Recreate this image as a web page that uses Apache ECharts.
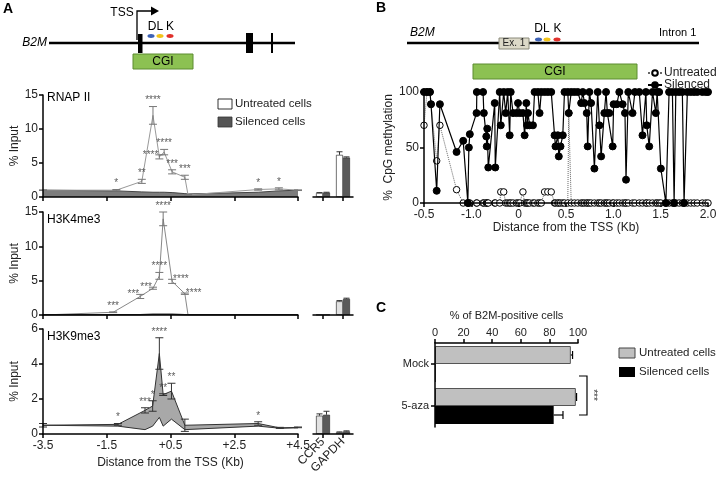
<!DOCTYPE html>
<html><head><meta charset="utf-8">
<script src="https://cdn.jsdelivr.net/npm/echarts@6/dist/echarts.min.js"></script>
<style>html,body{margin:0;padding:0;background:#fff}#c{width:726px;height:480px}</style>
</head><body><div id="c"></div>
<script>
const FONT = "'Liberation Sans', Arial, sans-serif";

// ---------- Panel A data ----------
const aTickVals = [-3.5, -1.5, 0.5, 2.5, 4.5];
const aTickLabels = ['-3.5', '-1.5', '+0.5', '+2.5', '+4.5'];
const ctrlGenes = ['CCR5', 'GAPDH'];

const rnapPos = [-3.5, -1.2, -0.4, -0.05, 0.15, 0.3, 0.55, 0.95, 1.05, 3.25, 3.9, 4.5];
const rnapUntreated = [1.0, 1.0, 2.3, 12.0, 5.9, 6.6, 3.7, 2.9, 0.3, 1.1, 1.2, 1.0];
const rnapUntreatedErr = [0.05, 0.1, 0.3, 1.3, 0.3, 0.4, 0.3, 0.3, 0.05, 0.1, 0.15, 0.05];
const rnapSilenced = [1.0, 0.9, 0.75, 0.7, 0.7, 0.7, 0.65, 0.5, 0.45, 0.7, 0.9, 1.0];
const rnapSig = ['', '*', '**', '****', '****', '****', '***', '***', '', '*', '*', ''];

const k4Pos = [-3.5, -1.3, -0.45, -0.05, 0.15, 0.27, 0.55, 0.95, 1.05, 4.5];
const k4Untreated = [0.0, 0.4, 2.7, 3.9, 5.7, 14.0, 4.9, 3.1, 0.0, 0.0];
const k4UntreatedErr = [0, 0.05, 0.3, 0.15, 0.5, 1.0, 0.3, 0.1, 0, 0];
const k4Silenced = [0.05, 0.05, 0.05, 0.1, 0.1, 0.1, 0.1, 0.05, 0.05, 0.05];
const k4Sig = ['', '***', '***', '***', '****', '****', '****', '****', '', ''];

const k9Pos = [-3.5, -1.15, -0.3, -0.06, 0.15, 0.27, 0.53, 0.95, 3.25, 3.93, 4.5];
const k9Silenced = [0.5, 0.55, 1.35, 1.6, 4.6, 2.25, 2.45, 0.5, 0.6, 0.35, 0.38];
const k9SilencedErr = [0.1, 0.05, 0.15, 0.3, 0.9, 0.05, 0.45, 0.35, 0.1, 0.03, 0.02];
const k9Untreated = [0.5, 0.45, 0.25, 0.45, 0.95, 0.45, 0.85, 0.25, 0.45, 0.33, 0.35];
const k9Sig = ['', '*', '***', '*', '****', '**', '**', '', '*', '', ''];

const rnapBarU = [0.6, 6.2], rnapBarUErr = [0.05, 0.45];
const rnapBarS = [0.65, 5.8], rnapBarSErr = [0.05, 0.1];
const k4BarU = [0.05, 2.0], k4BarUErr = [0, 0.1];
const k4BarS = [0.05, 2.35], k4BarSErr = [0, 0.1];
const k9BarU = [1.05, 0.1], k9BarUErr = [0.1, 0.02];
const k9BarS = [1.1, 0.15], k9BarSErr = [0.2, 0.03];

// ---------- Panel B data ----------
const bTickLabels = ['-0.5', '-1.0', '0', '0.5', '1.0', '1.5', '2.0'];
const cpgPos = [
 -1.0, -0.968, -0.937, -0.926, -0.866, -0.832, -0.656, -0.586, -0.537, -0.526, -0.516, -0.445, -0.442, -0.376, -0.368, -0.342, -0.337, -0.332, -0.321, -0.253, -0.247, -0.2, -0.189, -0.158, -0.137, -0.116, -0.095,
 -0.084, -0.06, -0.024, -0.007, 0.011, 0.045, 0.063, 0.081, 0.089, 0.098, 0.116, 0.151, 0.168, 0.203, 0.221, 0.239, 0.274, 0.308, 0.344, 0.379, 0.389, 0.414, 0.424, 0.442, 0.466, 0.484, 0.519, 0.529, 0.555, 0.589, 0.624, 0.66, 0.677, 0.695, 0.719, 0.729, 0.747, 0.765, 0.8, 0.835, 0.853, 0.871, 0.905, 0.923,
 0.937, 0.958, 0.993, 1.003, 1.037, 1.063, 1.098, 1.123, 1.134, 1.158, 1.203, 1.228, 1.274, 1.308, 1.344, 1.353, 1.379, 1.414, 1.449, 1.463, 1.484, 1.502, 1.555, 1.589, 1.624, 1.642, 1.66, 1.695, 1.729, 1.747, 1.782, 1.818, 1.853, 1.887, 1.94, 1.976, 2.0
];
const silencedMeth = [
 100,100,100,89,11,89,46,56,0,50,62,81,100,100,81,60,51,67,32,90,32,100,70,100,81,100,61,
 100,81,81,90,81,81,61,90,70,81,70,70,100,100,81,100,100,100,100,61,51,61,42,51,61,100,100,81,100,100,100,90,100,90,81,51,100,90,31,100,70,42,81,100,
 81,81,51,89,89,100,89,81,21,100,81,100,100,61,100,70,51,100,81,100,100,31,0,100,100,0,100,100,100,0,100,100,100,100,100,100,100
];
const untreatedMeth = [
 70,100,100,89,38,70,12,0,0,0,0,0,0,0,0,0,0,0,0,0,0,0,10,10,0,0,0,
 0,0,0,0,0,10,0,0,0,0,0,0,0,0,0,0,10,10,10,0,0,0,0,0,0,0,0,81,0,0,0,0,0,0,0,0,0,0,0,0,0,0,0,0,
 0,0,0,0,0,0,0,0,0,0,0,0,0,0,0,0,0,0,0,0,0,0,0,0,0,0,0,0,0,0,0,0,0,0,0,0,0
];

// ---------- Panel C data ----------
const cCats = ['Mock', '5-aza'];
const cUntreated = [95, 98.5], cUntreatedErr = [1.2, 0.5];
const cSilenced = [0.5, 83], cSilencedErr = [0, 6.5];

// ---------- helpers ----------
const zip = (a, b) => a.map((v, i) => [v, b[i]]);
const zip3 = (a, b, c) => a.map((v, i) => [v, b[i], c[i]]);

function lineErr(cap, color) {
  return function (params, api) {
    const x = api.value(0), y = api.value(1), e = api.value(2);
    if (!e) return { type: 'group', children: [] };
    const lo = api.coord([x, y - e]), hi = api.coord([x, y + e]);
    const st = { stroke: color, lineWidth: 1 };
    return { type: 'group', children: [
      { type: 'line', shape: { x1: lo[0], y1: lo[1], x2: hi[0], y2: hi[1] }, style: st },
      { type: 'line', shape: { x1: hi[0] - cap, y1: hi[1], x2: hi[0] + cap, y2: hi[1] }, style: st },
      { type: 'line', shape: { x1: lo[0] - cap, y1: lo[1], x2: lo[0] + cap, y2: lo[1] }, style: st }
    ] };
  };
}
function barErrV(offset, cap) {
  return function (params, api) {
    const c = api.value(0), v = api.value(1), e = api.value(2);
    if (!e) return { type: 'group', children: [] };
    const p0 = api.coord([c, v]), p1 = api.coord([c, v + e]);
    const x = p0[0] + offset, st = { stroke: '#333', lineWidth: 1 };
    return { type: 'group', children: [
      { type: 'line', shape: { x1: x, y1: p0[1], x2: x, y2: p1[1] }, style: st },
      { type: 'line', shape: { x1: x - cap, y1: p1[1], x2: x + cap, y2: p1[1] }, style: st }
    ] };
  };
}
function barErrH(offset, cap) {
  return function (params, api) {
    const v = api.value(0), c = api.value(1), e = api.value(2);
    if (!e) return { type: 'group', children: [] };
    const p0 = api.coord([v, c]), p1 = api.coord([v + e, c]);
    const y = p0[1] + offset, st = { stroke: '#000', lineWidth: 1.2 };
    return { type: 'group', children: [
      { type: 'line', shape: { x1: p0[0], y1: y, x2: p1[0], y2: y }, style: st },
      { type: 'line', shape: { x1: p1[0], y1: y - cap, x2: p1[0], y2: y + cap }, style: st }
    ] };
  };
}
function sigSeries(xi, yi, pos, vals, errs, sig, placement) {
  return {
    type: 'scatter', xAxisIndex: xi, yAxisIndex: yi, symbolSize: 0, z: 6, silent: true,
    data: pos.map((p, i) => ({
      value: [p, vals[i] + (errs ? errs[i] : 0)],
      label: { show: !!sig[i], formatter: sig[i], position: (placement && placement[i]) || 'top', distance: 1,
               fontSize: 10, color: '#333', fontFamily: FONT }
    }))
  };
}

const axLine = { show: true, onZero: false, lineStyle: { color: '#000', width: 1.5 } };
const axTick = { show: true, length: 4, lineStyle: { color: '#000', width: 1.5 } };
const lbl = (fs) => ({ color: '#222', fontSize: fs, fontFamily: FONT });

function aX(grid, showLabels) {
  return {
    type: 'value', gridIndex: grid, min: -3.5, max: 4.5, z: 10,
    axisLine: axLine, splitLine: { show: false },
    axisTick: Object.assign({ customValues: aTickVals }, axTick),
    axisLabel: Object.assign({ show: showLabels, customValues: aTickVals, margin: 6,
      formatter: v => aTickLabels[aTickVals.indexOf(v)] }, lbl(12)),
    name: showLabels ? 'Distance from the TSS (Kb)' : '', nameLocation: 'middle', nameGap: 23,
    nameTextStyle: lbl(12)
  };
}
function aY(grid, max, interval) {
  return {
    type: 'value', gridIndex: grid, min: 0, max: max, interval: interval, z: 10,
    axisLine: axLine, axisTick: axTick, splitLine: { show: false },
    axisLabel: Object.assign({ margin: 5 }, lbl(12)),
    name: '% Input', nameLocation: 'middle', nameGap: 22, nameTextStyle: lbl(12)
  };
}
function barX(grid, showLabels) {
  return {
    type: 'category', gridIndex: grid, data: ctrlGenes, z: 10,
    axisLine: axLine, axisTick: Object.assign({ alignWithLabel: true }, axTick),
    axisLabel: Object.assign({ show: showLabels, rotate: 45, margin: 6, interval: 0 }, lbl(12))
  };
}
function barY(grid, max) {
  return { type: 'value', gridIndex: grid, min: 0, max: max, show: false };
}
function barPair(xi, u, ue, s, se, uColor) {
  const bw = 7;
  return [
    { type: 'bar', xAxisIndex: xi, yAxisIndex: xi, data: u, barWidth: bw, barGap: '0%',
      itemStyle: { color: uColor, borderColor: '#333', borderWidth: 0.7 } },
    { type: 'bar', xAxisIndex: xi, yAxisIndex: xi, data: s, barWidth: bw, barGap: '0%',
      itemStyle: { color: '#5a5a5a', borderColor: '#333', borderWidth: 0.7 } },
    { type: 'custom', xAxisIndex: xi, yAxisIndex: xi, renderItem: barErrV(-bw / 2, 3),
      data: zip3([0, 1], u, ue), z: 5 },
    { type: 'custom', xAxisIndex: xi, yAxisIndex: xi, renderItem: barErrV(bw / 2, 3),
      data: zip3([0, 1], s, se), z: 5 }
  ];
}

const k9Upper = k9Silenced.map((v, i) => Math.max(v, k9Untreated[i]));
const k9Lower = k9Silenced.map((v, i) => Math.min(v, k9Untreated[i]));

const option = {
  animation: false,
  backgroundColor: '#fff',
  textStyle: { fontFamily: FONT },
  grid: [
    { left: 43, top: 95, width: 255, height: 102 },
    { left: 313, top: 95, width: 40, height: 102 },
    { left: 43, top: 212, width: 255, height: 103 },
    { left: 313, top: 212, width: 40, height: 103 },
    { left: 43, top: 329, width: 255, height: 105 },
    { left: 313, top: 329, width: 40, height: 105 },
    { left: 424, top: 92, width: 284, height: 111 },
    { left: 435, top: 343, width: 143, height: 84 }
  ],
  xAxis: [
    aX(0, false), barX(1, false), aX(2, false), barX(3, false), aX(4, true), barX(5, true),
    { type: 'value', gridIndex: 6, min: -1, max: 2, interval: 0.5, z: 10,
      axisLine: axLine, axisTick: axTick, splitLine: { show: false },
      axisLabel: Object.assign({ margin: 6, formatter: v => bTickLabels[Math.round((v + 1) / 0.5)] }, lbl(12)),
      name: 'Distance from the TSS (Kb)', nameLocation: 'middle', nameGap: 19, nameTextStyle: lbl(12) },
    { type: 'value', gridIndex: 7, min: 0, max: 100, interval: 20, position: 'top', z: 10,
      axisLine: axLine, axisTick: axTick, splitLine: { show: false },
      axisLabel: Object.assign({ margin: 5 }, lbl(11)),
      name: '% of B2M-positive cells', nameLocation: 'middle', nameGap: 22, nameTextStyle: lbl(11) }
  ],
  yAxis: [
    aY(0, 15, 5), barY(1, 15), aY(2, 15, 5), barY(3, 15), aY(4, 6, 2), barY(5, 6),
    { type: 'value', gridIndex: 6, min: 0, max: 100, interval: 50, z: 10,
      axisLine: axLine, axisTick: axTick, splitLine: { show: false },
      axisLabel: Object.assign({ margin: 5 }, lbl(12)),
      name: '%  CpG methylation', nameLocation: 'middle', nameGap: 28, nameTextStyle: lbl(12) },
    { type: 'category', gridIndex: 7, data: cCats, inverse: true, z: 10,
      axisLine: axLine, axisTick: Object.assign({ alignWithLabel: true }, axTick),
      axisLabel: Object.assign({ margin: 6 }, lbl(11)) }
  ],
  legend: {
    data: ['Untreated', 'Silenced'], left: 647, top: 67, orient: 'vertical', itemGap: 0, padding: 0,
    itemWidth: 14, itemHeight: 7, textStyle: { fontSize: 12, color: '#222', fontFamily: FONT, padding: [0, 0, 0, -3] }
  },
  series: [
    // RNAP II
    { type: 'line', xAxisIndex: 0, yAxisIndex: 0, data: zip(rnapPos, rnapSilenced), symbol: 'none',
      lineStyle: { color: '#444', width: 1 }, areaStyle: { color: '#7d7d7d', opacity: 1 }, z: 2 },
    { type: 'line', xAxisIndex: 0, yAxisIndex: 0, data: zip(rnapPos, rnapUntreated), symbol: 'none',
      lineStyle: { color: '#999', width: 1 }, z: 3 },
    { type: 'custom', xAxisIndex: 0, yAxisIndex: 0, renderItem: lineErr(4, '#777'),
      data: zip3(rnapPos, rnapUntreated, rnapUntreatedErr), z: 4 },
    sigSeries(0, 0, rnapPos, rnapUntreated, rnapUntreatedErr, rnapSig, { 4: 'left' }),
    // H3K4me3
    { type: 'line', xAxisIndex: 2, yAxisIndex: 2, data: zip(k4Pos, k4Untreated), symbol: 'none',
      lineStyle: { color: '#888', width: 1 }, z: 3 },
    { type: 'line', xAxisIndex: 2, yAxisIndex: 2, data: zip(k4Pos, k4Silenced), symbol: 'none',
      lineStyle: { color: '#333', width: 1.5 }, z: 3 },
    { type: 'custom', xAxisIndex: 2, yAxisIndex: 2, renderItem: lineErr(4, '#777'),
      data: zip3(k4Pos, k4Untreated, k4UntreatedErr), z: 4 },
    sigSeries(2, 2, k4Pos, k4Untreated, k4UntreatedErr, k4Sig, { 2: 'left', 3: 'left', 6: 'right', 7: 'right' }),
    // H3K9me3
    { type: 'line', xAxisIndex: 4, yAxisIndex: 4, data: zip(k9Pos, k9Upper), symbol: 'none',
      lineStyle: { width: 0 }, areaStyle: { color: '#a8a8a8', opacity: 1 }, z: 2 },
    { type: 'line', xAxisIndex: 4, yAxisIndex: 4, data: zip(k9Pos, k9Lower), symbol: 'none',
      lineStyle: { width: 0 }, areaStyle: { color: '#fff', opacity: 1 }, z: 3 },
    { type: 'line', xAxisIndex: 4, yAxisIndex: 4, data: zip(k9Pos, k9Silenced), symbol: 'none',
      lineStyle: { color: '#333', width: 1 }, z: 4 },
    { type: 'line', xAxisIndex: 4, yAxisIndex: 4, data: zip(k9Pos, k9Untreated), symbol: 'none',
      lineStyle: { color: '#333', width: 1 }, z: 4 },
    { type: 'custom', xAxisIndex: 4, yAxisIndex: 4, renderItem: lineErr(4, '#333'),
      data: zip3(k9Pos, k9Silenced, k9SilencedErr), z: 5 },
    sigSeries(4, 4, k9Pos, k9Silenced, k9SilencedErr, k9Sig, null),
    // control bars
    ...barPair(1, rnapBarU, rnapBarUErr, rnapBarS, rnapBarSErr, '#ffffff'),
    ...barPair(3, k4BarU, k4BarUErr, k4BarS, k4BarSErr, '#e2e2e2'),
    ...barPair(5, k9BarU, k9BarUErr, k9BarS, k9BarSErr, '#e2e2e2'),
    // Panel B
    { name: 'Untreated', type: 'line', xAxisIndex: 6, yAxisIndex: 6, data: zip(cpgPos, untreatedMeth),
      symbol: 'circle', symbolSize: 6.5, z: 3,
      itemStyle: { color: '#fff', borderColor: '#000', borderWidth: 1 },
      lineStyle: { color: '#666', width: 1, type: 'dotted' } },
    { name: 'Silenced', type: 'line', xAxisIndex: 6, yAxisIndex: 6, data: zip(cpgPos, silencedMeth),
      symbol: 'circle', symbolSize: 7, z: 4,
      itemStyle: { color: '#000', borderColor: '#000', borderWidth: 1 },
      lineStyle: { color: '#000', width: 1.2 } },
    // Panel C
    { type: 'bar', xAxisIndex: 7, yAxisIndex: 7, data: cUntreated, barWidth: 18, barGap: '0%',
      itemStyle: { color: '#c0c0c0', borderColor: '#555', borderWidth: 1 } },
    { type: 'bar', xAxisIndex: 7, yAxisIndex: 7, data: cSilenced, barWidth: 18, barGap: '0%',
      itemStyle: { color: '#000' } },
    { type: 'custom', xAxisIndex: 7, yAxisIndex: 7, renderItem: barErrH(-9, 4),
      data: zip3(cUntreated, [0, 1], cUntreatedErr), z: 5 },
    { type: 'custom', xAxisIndex: 7, yAxisIndex: 7, renderItem: barErrH(9, 4),
      data: zip3(cSilenced, [0, 1], cSilencedErr), z: 5 }
  ],
  graphic: [
    // panel letters
    { type: 'text', x: 3, y: 9, style: { text: 'A', font: 'bold 14px ' + FONT, fill: '#000', textVerticalAlign: 'middle' } },
    { type: 'text', x: 376, y: 8, style: { text: 'B', font: 'bold 14px ' + FONT, fill: '#000', textVerticalAlign: 'middle' } },
    { type: 'text', x: 376, y: 308, style: { text: 'C', font: 'bold 14px ' + FONT, fill: '#000', textVerticalAlign: 'middle' } },
    // gene diagram A
    { type: 'line', shape: { x1: 49, y1: 43, x2: 295, y2: 43 }, style: { stroke: '#000', lineWidth: 2.5 } },
    { type: 'rect', shape: { x: 138, y: 34, width: 4.5, height: 19 }, style: { fill: '#000' } },
    { type: 'polyline', shape: { points: [[137, 40], [137, 11], [152, 11]] }, style: { stroke: '#000', lineWidth: 1.3, fill: null } },
    { type: 'polygon', shape: { points: [[151, 6.5], [159, 11], [151, 15.5]] }, style: { fill: '#000' } },
    { type: 'text', x: 122, y: 13, style: { text: 'TSS', font: '12px ' + FONT, fill: '#000', textAlign: 'center', textVerticalAlign: 'middle' } },
    { type: 'ellipse', shape: { cx: 151, cy: 36, rx: 3.6, ry: 2 }, style: { fill: '#3d62b5' } },
    { type: 'ellipse', shape: { cx: 160, cy: 36, rx: 3.6, ry: 2 }, style: { fill: '#f2c319' } },
    { type: 'ellipse', shape: { cx: 170, cy: 36, rx: 3.6, ry: 2 }, style: { fill: '#e0302b' } },
    { type: 'text', x: 155.5, y: 27, style: { text: 'DL', font: '12px ' + FONT, fill: '#000', textAlign: 'center', textVerticalAlign: 'middle' } },
    { type: 'text', x: 170, y: 27, style: { text: 'K', font: '12px ' + FONT, fill: '#000', textAlign: 'center', textVerticalAlign: 'middle' } },
    { type: 'rect', shape: { x: 246, y: 33, width: 7, height: 20 }, style: { fill: '#000' } },
    { type: 'line', shape: { x1: 272, y1: 33, x2: 272, y2: 53 }, style: { stroke: '#000', lineWidth: 2 } },
    { type: 'rect', shape: { x: 133, y: 54, width: 60, height: 15 }, style: { fill: '#8cc152', stroke: '#5d8c30', lineWidth: 1 } },
    { type: 'text', x: 163, y: 61.5, style: { text: 'CGI', font: '12px ' + FONT, fill: '#000', textAlign: 'center', textVerticalAlign: 'middle' } },
    { type: 'text', x: 47, y: 43, style: { text: 'B2M', font: 'italic 12px ' + FONT, fill: '#000', textAlign: 'right', textVerticalAlign: 'middle' } },
    // gene diagram B
    { type: 'line', shape: { x1: 407, y1: 43, x2: 699, y2: 43 }, style: { stroke: '#000', lineWidth: 2.5 } },
    { type: 'rect', shape: { x: 499, y: 38, width: 30, height: 11 }, style: { fill: '#dcd9c8', stroke: '#8a8a7a', lineWidth: 1 } },
    { type: 'text', x: 514, y: 43.5, style: { text: 'Ex. 1', font: '10px ' + FONT, fill: '#222', textAlign: 'center', textVerticalAlign: 'middle' } },
    { type: 'ellipse', shape: { cx: 538.5, cy: 39.5, rx: 3.6, ry: 2 }, style: { fill: '#3d62b5' } },
    { type: 'ellipse', shape: { cx: 547, cy: 39.5, rx: 3.6, ry: 2 }, style: { fill: '#f2c319' } },
    { type: 'ellipse', shape: { cx: 557, cy: 39.5, rx: 3.6, ry: 2 }, style: { fill: '#e0302b' } },
    { type: 'text', x: 542, y: 29, style: { text: 'DL', font: '12px ' + FONT, fill: '#000', textAlign: 'center', textVerticalAlign: 'middle' } },
    { type: 'text', x: 557.5, y: 29, style: { text: 'K', font: '12px ' + FONT, fill: '#000', textAlign: 'center', textVerticalAlign: 'middle' } },
    { type: 'text', x: 659, y: 33, style: { text: 'Intron 1', font: '11px ' + FONT, fill: '#000', textVerticalAlign: 'middle' } },
    { type: 'text', x: 410, y: 33, style: { text: 'B2M', font: 'italic 12px ' + FONT, fill: '#000', textVerticalAlign: 'middle' } },
    { type: 'rect', shape: { x: 473, y: 64, width: 164, height: 15 }, style: { fill: '#8cc152', stroke: '#5d8c30', lineWidth: 1 } },
    { type: 'text', x: 555, y: 71.5, style: { text: 'CGI', font: '12px ' + FONT, fill: '#000', textAlign: 'center', textVerticalAlign: 'middle' } },
    // panel A labels & legend
    { type: 'text', x: 47, y: 98, style: { text: 'RNAP II', font: '12px ' + FONT, fill: '#000', textVerticalAlign: 'middle' } },
    { type: 'text', x: 47, y: 220, style: { text: 'H3K4me3', font: '12px ' + FONT, fill: '#000', textVerticalAlign: 'middle' } },
    { type: 'text', x: 47, y: 337, style: { text: 'H3K9me3', font: '12px ' + FONT, fill: '#000', textVerticalAlign: 'middle' } },
    { type: 'rect', shape: { x: 218, y: 99, width: 14, height: 10 }, style: { fill: '#fff', stroke: '#000', lineWidth: 0.8 } },
    { type: 'rect', shape: { x: 218, y: 117, width: 14, height: 10 }, style: { fill: '#555', stroke: '#333', lineWidth: 0.8 } },
    { type: 'text', x: 235, y: 104, style: { text: 'Untreated cells', font: '11.5px ' + FONT, fill: '#222', textVerticalAlign: 'middle' } },
    { type: 'text', x: 235, y: 122, style: { text: 'Silenced cells', font: '11.5px ' + FONT, fill: '#222', textVerticalAlign: 'middle' } },
    // panel C legend & bracket
    { type: 'rect', shape: { x: 619, y: 348, width: 16, height: 10 }, style: { fill: '#c0c0c0', stroke: '#444', lineWidth: 1 } },
    { type: 'rect', shape: { x: 619, y: 367, width: 16, height: 10 }, style: { fill: '#000' } },
    { type: 'text', x: 639, y: 353, style: { text: 'Untreated cells', font: '11.5px ' + FONT, fill: '#222', textVerticalAlign: 'middle' } },
    { type: 'text', x: 639, y: 372, style: { text: 'Silenced cells', font: '11.5px ' + FONT, fill: '#222', textVerticalAlign: 'middle' } },
    { type: 'polyline', shape: { points: [[579, 376], [587, 376], [587, 415], [579, 415]] }, style: { stroke: '#000', lineWidth: 1.2, fill: null } },
    { type: 'text', x: 593, y: 395, rotation: -Math.PI / 2, style: { text: '***', font: '10px ' + FONT, fill: '#333', textAlign: 'center', textVerticalAlign: 'middle' } }
  ]
};

const chart = echarts.init(document.getElementById('c'), null, { renderer: 'canvas' });
chart.setOption(option);
</script>
</body></html>
